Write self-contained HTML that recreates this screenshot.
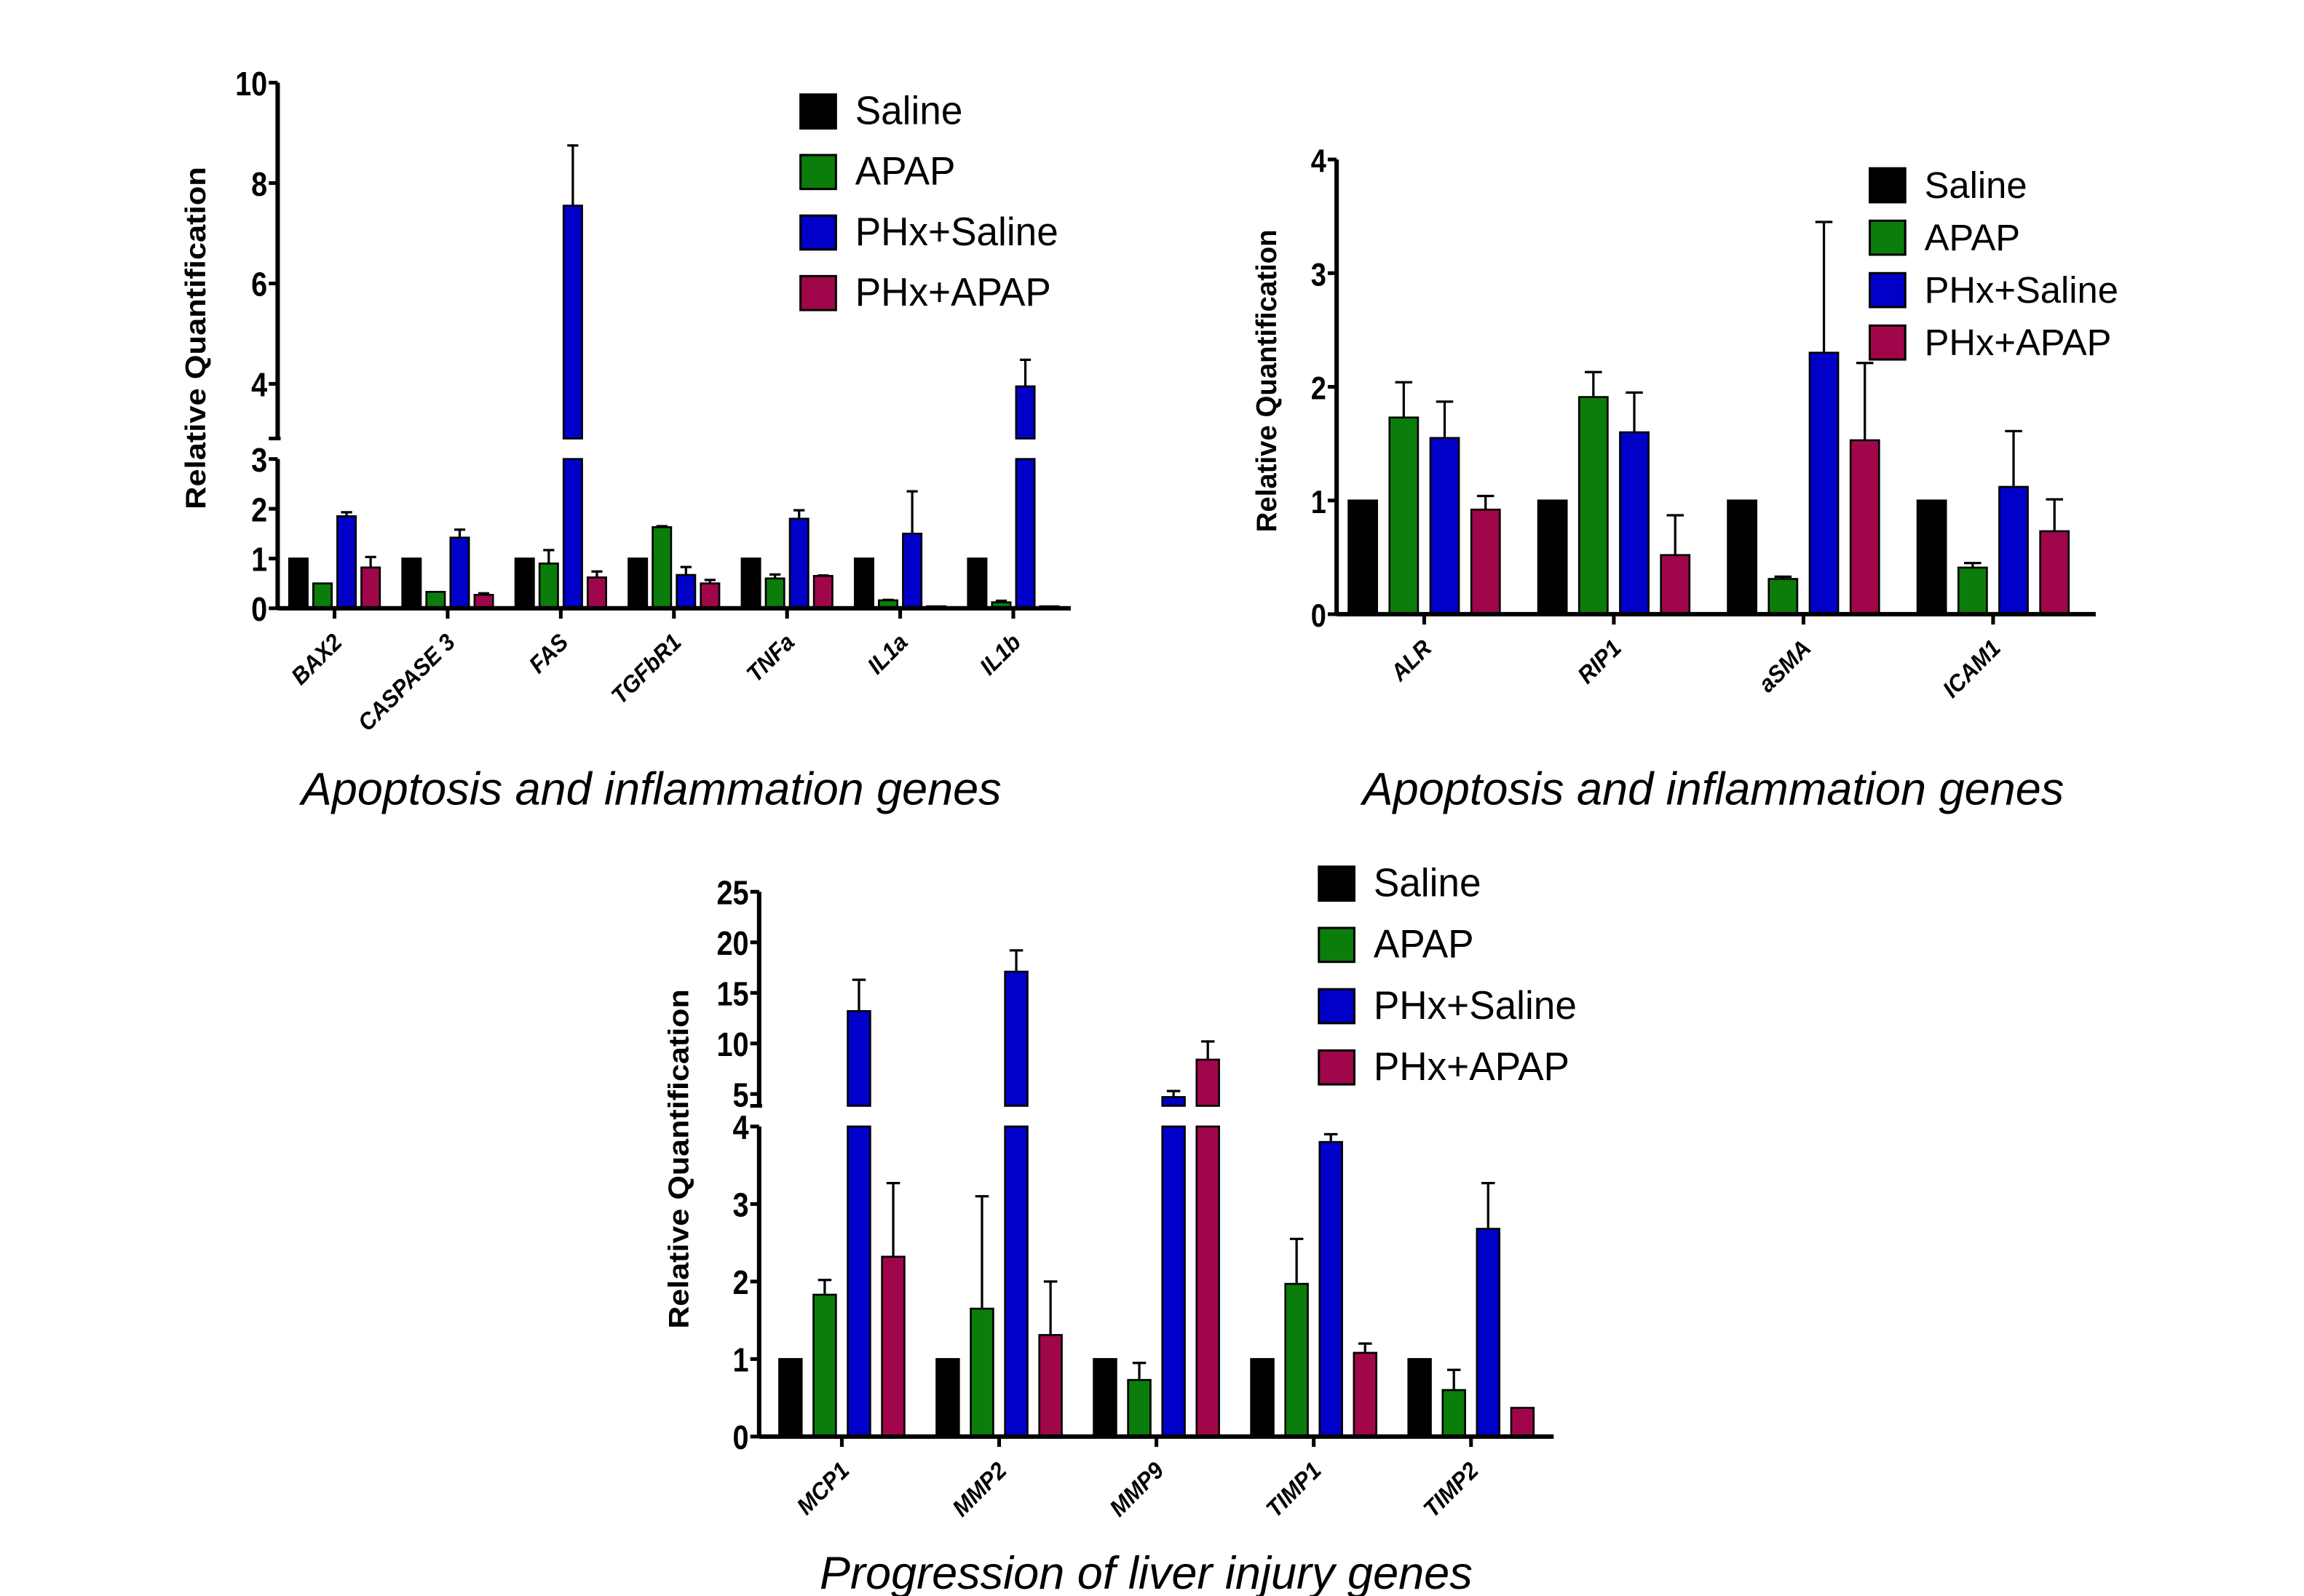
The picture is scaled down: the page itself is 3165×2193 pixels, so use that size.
<!DOCTYPE html>
<html><head><meta charset="utf-8">
<style>
html,body{margin:0;padding:0;background:#fff;}
svg{display:block;}
text{font-family:"Liberation Sans",Arial,sans-serif;}
</style></head>
<body>
<svg id="fig" width="3165" height="2193" viewBox="0 0 1560 1081" preserveAspectRatio="none" xmlns="http://www.w3.org/2000/svg">
<rect width="1560" height="1081" fill="#fff"/>
</svg>
<script>
const seriesNames = ["Saline","APAP","PHx+Saline","PHx+APAP"];
const seriesColors = ["#000000","#0a7d0a","#0000c8","#a0064a"];

const c1Categories = ["BAX2","CASPASE 3","FAS","TGFbR1","TNFa","IL1a","IL1b"];
const c1Saline = [1,1,1,1,1,1,1];
const c1Apap = [0.5,0.33,0.9,1.63,0.6,0.16,0.12];
const c1PhxSaline = [1.85,1.42,7.55,0.67,1.8,1.5,3.95];
const c1PhxApap = [0.82,0.27,0.62,0.5,0.65,0.04,0.04];
const c1ErrSaline = [0,0,0,0,0,0,0];
const c1ErrApap = [0,0,0.27,0.02,0.08,0.01,0.03];
const c1ErrPhxSaline = [0.08,0.16,1.2,0.16,0.17,0.85,0.53];
const c1ErrPhxApap = [0.21,0.03,0.12,0.07,0.01,0,0];
const c1LowTicks = [0,1,2,3];
const c1HighTicks = [4,6,8,10];

const c2Categories = ["ALR","RIP1","aSMA","ICAM1"];
const c2Saline = [1,1,1,1];
const c2Apap = [1.73,1.91,0.31,0.41];
const c2PhxSaline = [1.55,1.6,2.3,1.12];
const c2PhxApap = [0.92,0.52,1.53,0.73];
const c2ErrSaline = [0,0,0,0];
const c2ErrApap = [0.31,0.22,0.02,0.04];
const c2ErrPhxSaline = [0.32,0.35,1.15,0.49];
const c2ErrPhxApap = [0.12,0.35,0.68,0.28];
const c2Ticks = [0,1,2,3,4];

const c3Categories = ["MCP1","MMP2","MMP9","TIMP1","TIMP2"];
const c3Saline = [1,1,1,1,1];
const c3Apap = [1.83,1.65,0.73,1.97,0.6];
const c3PhxSaline = [13.2,17.1,4.7,3.8,2.68];
const c3PhxApap = [2.32,1.31,8.4,1.08,0.37];
const c3ErrSaline = [0,0,0,0,0];
const c3ErrApap = [0.19,1.45,0.22,0.58,0.26];
const c3ErrPhxSaline = [3.1,2.1,0.6,0.1,0.59];
const c3ErrPhxApap = [0.95,0.69,1.8,0.12,0];
const c3LowTicks = [0,1,2,3,4];
const c3HighTicks = [5,10,15,20,25];

const NS="http://www.w3.org/2000/svg";
const svg=document.getElementById('fig');
function mk(tag,attrs,parent){const e=document.createElementNS(NS,tag);for(const k in attrs)e.setAttribute(k,attrs[k]);(parent||svg).appendChild(e);return e;}
function squeeze(t,f){const w=t.getComputedTextLength();if(w>0){t.setAttribute('textLength',w*f);t.setAttribute('lengthAdjust','spacingAndGlyphs');}}

function drawChart(cfg){
  const g=mk('g',{});
  
  
  const ax=cfg.axisX, y0=cfg.y0;
  const yLow=v=>y0-v*cfg.lowScale;
  const yHigh=v=>cfg.hiRef-(v-cfg.hiRefVal)*cfg.hiScale;
  const lowTop=yLow(cfg.lowMax);
  const vals=cfg.values, errs=cfg.errors;
  cfg.categories.forEach((cat,i)=>{
    const cx=cfg.tick0+i*cfg.tickStep;
    for(let s=0;s<4;s++){
      const v=vals[s][i], e=errs[s][i];
      const bx=cx+(s-1.5)*cfg.barStep-cfg.barW/2;
      const bw=cfg.barW;
      let top;
      if(cfg.broken && v>cfg.lowMax){
        const r=mk('rect',{x:bx,y:lowTop,width:bw,height:y0-lowTop,fill:seriesColors[s],stroke:'#000','stroke-width':1.3},g);
        
        
        top=yHigh(v);
        const r2=mk('rect',{x:bx,y:top,width:bw,height:cfg.hiBottom-top,fill:seriesColors[s],stroke:'#000','stroke-width':1.3},g);
        
        
      } else {
        top=yLow(v);
        const r=mk('rect',{x:bx,y:top,width:bw,height:y0-top,fill:seriesColors[s],stroke:'#000','stroke-width':1.3},g);
        
        
      }
      if(e>0){
        const ve=v+e;
        const ey=(cfg.broken && ve>cfg.lowMax)?yHigh(ve):yLow(ve);
        const l=mk('path',{d:`M${bx+bw/2},${top} V${ey} M${bx+bw/2-bw*0.3},${ey} H${bx+bw/2+bw*0.3}`,stroke:'#000','stroke-width':1.6,fill:'none'},g);
        
        
      }
    }
    mk('line',{x1:cx,y1:y0,x2:cx,y2:y0+7,stroke:'#000','stroke-width':2.5},g);
    const t=mk('text',{x:0,y:0,'font-size':cfg.xFont,'font-weight':'bold','font-style':'italic','text-anchor':'end',transform:`translate(${cx+6},${y0+24}) rotate(-45)`},g);
    t.textContent=cat;
    
    
    squeeze(t,0.95);
  });
  mk('line',{x1:ax,y1:y0,x2:cfg.axisEnd,y2:y0,stroke:'#000','stroke-width':3},g);
  mk('line',{x1:ax,y1:y0,x2:ax,y2:lowTop,stroke:'#000','stroke-width':3},g);
  const yLabel=(v,y)=>{
    const t=mk('text',{x:ax-7,y:y+8.5,'font-size':cfg.yFont,'font-weight':'bold','text-anchor':'end'},g);
    t.textContent=v;
    
    
    squeeze(t,0.85);
  };
  cfg.lowTicks.forEach(v=>{
    const y=yLow(v);
    mk('line',{x1:ax-6,y1:y,x2:ax,y2:y,stroke:'#000','stroke-width':2.5},g);
    yLabel(v,y);
  });
  if(cfg.broken){
    const topY=yHigh(cfg.highTicks[cfg.highTicks.length-1]);
    mk('line',{x1:ax,y1:cfg.hiBottom,x2:ax,y2:topY,stroke:'#000','stroke-width':3},g);
    mk('line',{x1:ax-6,y1:cfg.hiBottom,x2:ax+2,y2:cfg.hiBottom,stroke:'#000','stroke-width':2.5},g);
    cfg.highTicks.forEach(v=>{
      const y=yHigh(v);
      mk('line',{x1:ax-6,y1:y,x2:ax,y2:y,stroke:'#000','stroke-width':2.5},g);
      yLabel(v,y);
    });
  }
  const yt=mk('text',{x:0,y:0,'font-size':19,'font-weight':'bold','text-anchor':'middle',transform:`translate(${cfg.yTitleX},${cfg.yTitleY}) rotate(-90)`},g);
  yt.textContent='Relative Quantification';
  
  
  yt.setAttribute('textLength',cfg.yTitleLen);
  yt.setAttribute('lengthAdjust','spacingAndGlyphs');
  const tt=mk('text',{x:cfg.titleX,y:cfg.titleY,'font-size':31,'font-style':'italic','text-anchor':'middle'},g);
  tt.textContent=cfg.title;
  
  
  tt.setAttribute('textLength',cfg.titleLen);
  tt.setAttribute('lengthAdjust','spacingAndGlyphs');
  seriesNames.forEach((n,s)=>{
    const cy=cfg.legY+s*cfg.legStep;
    const r=mk('rect',{x:cfg.legX,y:cy-11,width:24,height:23,fill:seriesColors[s],stroke:'#000','stroke-width':1.5},g);
    
    
    const t=mk('text',{x:cfg.legX+37,y:cy+9,'font-size':cfg.legFont},g);
    t.textContent=n;
    
    
    squeeze(t,cfg.legSq);
  });
}

drawChart({name:'chart-apoptosis-1',categories:c1Categories,
  values:[c1Saline,c1Apap,c1PhxSaline,c1PhxApap],errors:[c1ErrSaline,c1ErrApap,c1ErrPhxSaline,c1ErrPhxApap],
  axisX:188,axisEnd:725,y0:412,lowScale:33.7,lowMax:3,broken:true,hiRef:260,hiRefVal:4,hiScale:34,hiBottom:297,
  lowTicks:c1LowTicks,highTicks:c1HighTicks,tick0:226.5,tickStep:76.6,barStep:16.3,barW:12.5,
  xFont:16,yFont:23,yTitleX:139,yTitleY:229,yTitleLen:232,title:'Apoptosis and inflammation genes',titleX:441,titleY:545,titleLen:474,
  legX:542,legY:75,legStep:41,legFont:27,legSq:0.97});

drawChart({name:'chart-apoptosis-2',categories:c2Categories,
  values:[c2Saline,c2Apap,c2PhxSaline,c2PhxApap],errors:[c2ErrSaline,c2ErrApap,c2ErrPhxSaline,c2ErrPhxApap],
  axisX:905,axisEnd:1419,y0:416,lowScale:77,lowMax:4,broken:false,
  lowTicks:c2Ticks,tick0:964.3,tickStep:128.4,barStep:27.7,barW:19.3,
  xFont:16,yFont:22,yTitleX:864,yTitleY:258,yTitleLen:205,title:'Apoptosis and inflammation genes',titleX:1160,titleY:545,titleLen:475,
  legX:1266,legY:125,legStep:35.5,legFont:25,legSq:1.0});

drawChart({name:'chart-liver-injury',categories:c3Categories,
  values:[c3Saline,c3Apap,c3PhxSaline,c3PhxApap],errors:[c3ErrSaline,c3ErrApap,c3ErrPhxSaline,c3ErrPhxApap],
  axisX:514,axisEnd:1052,y0:973,lowScale:52.5,lowMax:4,broken:true,hiRef:741,hiRefVal:5,hiScale:6.85,hiBottom:749,
  lowTicks:c3LowTicks,highTicks:c3HighTicks,tick0:570,tickStep:106.5,barStep:23.2,barW:15.2,
  xFont:16,yFont:23,yTitleX:466,yTitleY:785,yTitleLen:230,title:'Progression of liver injury genes',titleX:776,titleY:1076,titleLen:442,
  legX:893,legY:598,legStep:41.5,legFont:27,legSq:0.97});
</script>
</body></html>
